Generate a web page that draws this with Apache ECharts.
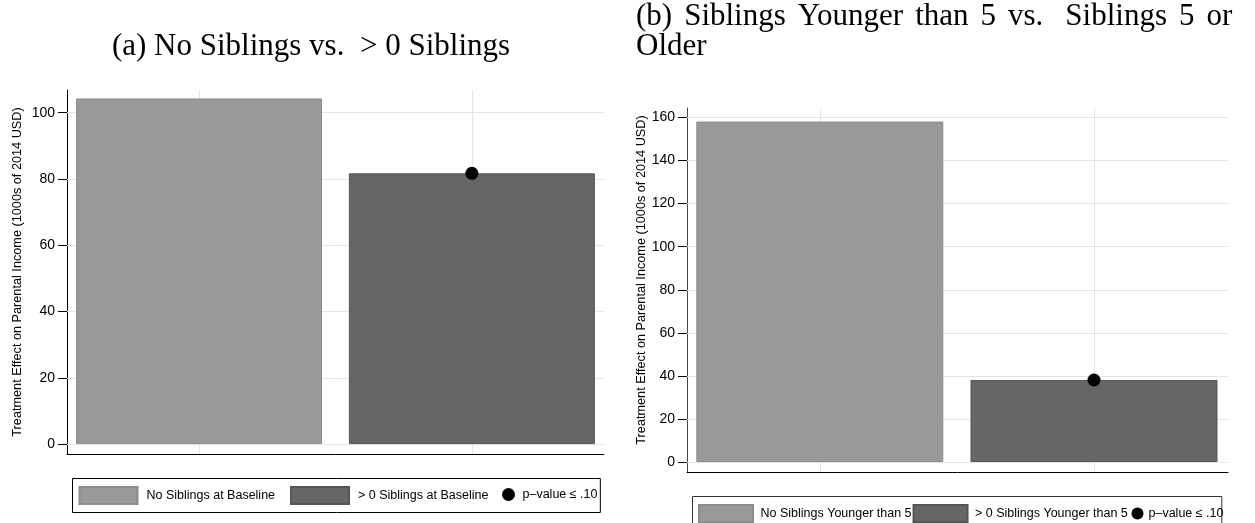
<!DOCTYPE html>
<html>
<head>
<meta charset="utf-8">
<script src="https://cdn.jsdelivr.net/npm/echarts@6/dist/echarts.min.js"></script>
<style>
html,body{margin:0;padding:0;background:#fff;}
#chart{width:1255px;height:523px;}
</style>
</head>
<body>
<div id="chart"></div>
<script>
// ---- data ----
const catsA = ['No Siblings at Baseline', '> 0 Siblings at Baseline'];
const valsA = [104.3, 81.7];
const sigA = ['-', 81.7];           // p-value <= .10 markers
const ticksA = [0, 20, 40, 60, 80, 100];

const catsB = ['No Siblings Younger than 5', '> 0 Siblings Younger than 5'];
const valsB = [158.1, 38.1];
const sigB = ['-', 38.1];
const ticksB = [0, 20, 40, 60, 80, 100, 120, 140, 160];

const sigName = 'p\u2013value \u2264 .10';
const yName = 'Treatment Effect on Parental Income (1000s of 2014 USD)';
const titleA = '(a) No Siblings vs.  > 0 Siblings';
const titleB1Words = ['(b)', 'Siblings', 'Younger', 'than', '5', 'vs.', 'Siblings', '5', 'or'];
const titleB2 = 'Older';

// ---- styles ----
const SANS = '"Liberation Sans", Arial, sans-serif';
const SERIF = '"Liberation Serif", "Times New Roman", serif';
const barColors = ['#999999', '#666666'];
const barBorders = ['#8c8c8c', '#555555'];
const gridColor = '#e4e4e4';

const chart = echarts.init(document.getElementById('chart'), null, {renderer: 'canvas'});

function panel(idx, cats, vals, sig, ticks, frame, bars, yMin, yMax, barW, nameGap, namePad, axisColor) {
  const g0 = idx * 2, g1 = idx * 2 + 1;
  const grids = [
    {left: frame.left, top: frame.top, width: frame.width, height: frame.height},
    {left: bars.left, top: frame.top, width: bars.width, height: frame.height}
  ];
  const xAxes = [
    {gridIndex: g0, type: 'value', min: 0, max: 1,
     axisLine: {show: true, onZero: false, lineStyle: {color: '#000', width: 1}},
     axisTick: {show: false}, axisLabel: {show: false}, splitLine: {show: false}},
    {gridIndex: g1, type: 'category', data: cats, show: false}
  ];
  const yAxes = [
    {gridIndex: g0, type: 'value', min: yMin, max: yMax,
     name: yName, nameLocation: 'middle', nameGap: nameGap,
     nameTextStyle: {fontFamily: SANS, fontSize: 12.7, color: '#000', padding: namePad},
     axisLine: {show: true, onZero: false, lineStyle: {color: axisColor, width: 1}},
     axisTick: {show: true, length: 9, customValues: ticks, lineStyle: {color: '#000', width: 1}},
     axisLabel: {show: true, customValues: ticks, margin: 12, fontFamily: SANS, fontSize: 14, color: '#000'},
     splitLine: {show: false}},
    {gridIndex: g1, type: 'value', min: yMin, max: yMax, show: false}
  ];
  const series = [];
  series.push({type: 'line', xAxisIndex: g0, yAxisIndex: g0, data: [], silent: true, z: 1,
    markLine: {silent: true, symbol: 'none', z: 1, animation: false, label: {show: false},
      lineStyle: {color: gridColor, width: 1, type: 'solid'},
      data: ticks.map(v => ({yAxis: v}))}});
  series.push({type: 'line', xAxisIndex: g1, yAxisIndex: g1, data: [], silent: true, z: 1,
    markLine: {silent: true, symbol: 'none', z: 1, animation: false, label: {show: false},
      lineStyle: {color: gridColor, width: 1, type: 'solid'},
      data: cats.map(c => ({xAxis: c}))}});
  cats.forEach((c, i) => {
    series.push({type: 'bar', name: c, xAxisIndex: g1, yAxisIndex: g1, stack: 'p' + idx,
      barWidth: barW, z: 2,
      itemStyle: {color: barColors[i], borderColor: barBorders[i], borderWidth: 1},
      data: cats.map((cc, j) => j === i ? vals[i] : '-')});
  });
  series.push({type: 'scatter', name: sigName, xAxisIndex: g1, yAxisIndex: g1, z: 3,
    symbol: 'circle', symbolSize: 13, itemStyle: {color: '#000', opacity: 1}, data: sig});
  return {grids, xAxes, yAxes, series};
}

const pA = panel(0, catsA, valsA, sigA, ticksA,
  {left: 67, top: 90, width: 537, height: 364},
  {left: 62.6, width: 545.7}, -3.0, 106.85, 246, 43, [0, 0, 0, 0], '#000');
const pB = panel(1, catsB, valsB, sigB, ticksB,
  {left: 687, top: 108, width: 541, height: 364},
  {left: 682.7, width: 548.4}, -4.64, 164.41, 247, 38, [0, 0, 0, 20], '#444');

const legText = {fontFamily: SANS, fontSize: 12.5, color: '#000'};

// justified first line of title (b): words with stretched inter-word spaces
const titleB1Rich = titleB1Words.map((w, i) => {
  const gap = i === 0 ? '' : (titleB1Words[i - 1] === 'vs.' ? '{s| }{v| }' : '{s| }');
  return gap + '{t|' + w + '}';
}).join('');

const option = {
  animation: false,
  backgroundColor: '#fff',
  grid: pA.grids.concat(pB.grids),
  xAxis: pA.xAxes.concat(pB.xAxes),
  yAxis: pA.yAxes.concat(pB.yAxes),
  series: pA.series.concat(pB.series),
  legend: [
    {data: catsA, left: 72.5, top: 478.5, orient: 'horizontal', icon: 'rect',
     itemWidth: 58, itemHeight: 17, itemGap: 15, padding: [7.5, 112, 7.5, 6],
     borderColor: '#000', borderWidth: 1, selectedMode: false,
     textStyle: Object.assign({padding: [0, 0, 0, 4]}, legText)},
    {data: [sigName], left: 502, top: 488, icon: 'circle', itemWidth: 13, itemHeight: 13,
     padding: 0, selectedMode: false, itemStyle: {opacity: 1},
     textStyle: Object.assign({padding: [0, 0, 0, 2.5]}, legText)},
    {data: catsB, left: 692.5, top: 496.5, orient: 'horizontal', icon: 'rect',
     itemWidth: 54, itemHeight: 17, itemGap: 1, padding: [7.5, 94, 7.5, 5.5],
     borderColor: '#333', borderWidth: 1, selectedMode: false,
     textStyle: Object.assign({padding: [0, 0, 0, 2.5]}, legText)},
    {data: [sigName], left: 1131.5, top: 507, icon: 'circle', itemWidth: 12, itemHeight: 12,
     padding: 0, selectedMode: false, itemStyle: {opacity: 1},
     textStyle: Object.assign({padding: [0, 0, 0, 0]}, legText)}
  ],
  graphic: [
    {type: 'text', x: 311, y: 47, silent: true,
     style: {text: titleA, font: '31px ' + SERIF, fill: '#000', align: 'center', verticalAlign: 'middle', textAlign: 'center', textVerticalAlign: 'middle'}},
    {type: 'text', x: 636, y: 17, silent: true,
     style: {text: titleB1Rich, fill: '#000', align: 'left', verticalAlign: 'middle', textAlign: 'left', textVerticalAlign: 'middle',
       rich: {
         t: {fontFamily: SERIF, fontSize: 31, lineHeight: 34, color: '#000', fill: '#000'},
         s: {fontFamily: SERIF, fontSize: 31, lineHeight: 34, width: 12},
         v: {fontFamily: SERIF, fontSize: 31, lineHeight: 34, width: 10}
       }}},
    {type: 'text', x: 636, y: 47, silent: true,
     style: {text: titleB2, font: '31px ' + SERIF, fill: '#000', align: 'left', verticalAlign: 'middle', textAlign: 'left', textVerticalAlign: 'middle'}}
  ]
};
chart.setOption(option);
</script>
</body>
</html>
